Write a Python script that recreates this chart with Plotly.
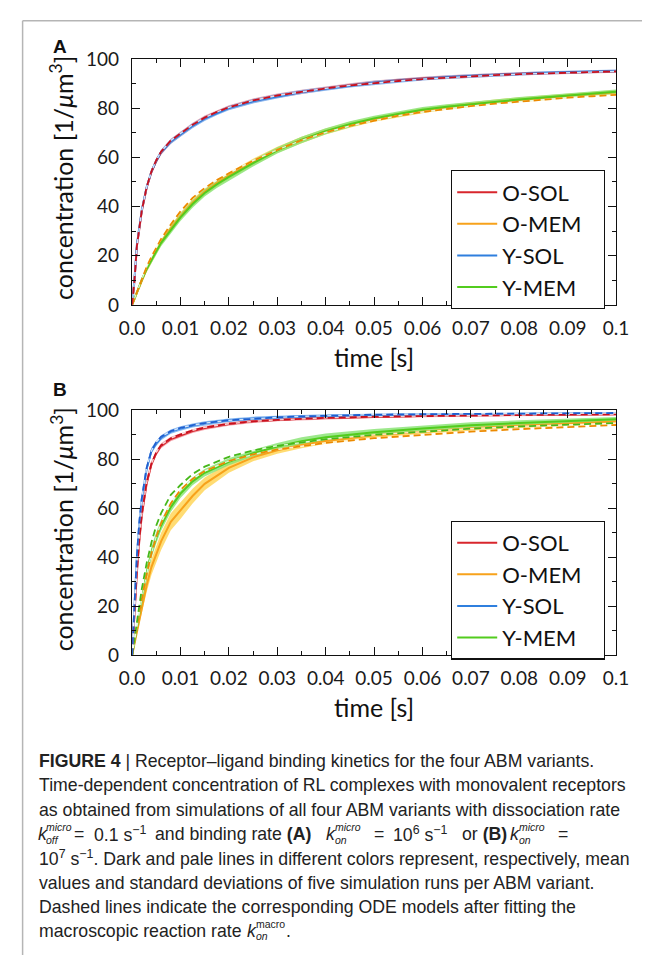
import plotly.graph_objects as go

# ---------------- data ----------------
series_names = ["O-SOL", "O-MEM", "Y-SOL", "Y-MEM"]

# panel A: k_on^micro = 1e6 s^-1
t_a = [0, 0.0005, 0.001, 0.002, 0.003, 0.004, 0.005, 0.006, 0.008, 0.01,
       0.0125, 0.015, 0.0175, 0.02, 0.025, 0.03, 0.035, 0.04, 0.045, 0.05,
       0.055, 0.06, 0.065, 0.07, 0.075, 0.08, 0.085, 0.09, 0.095, 0.1]
osol_a = [0, 10, 24, 38, 47.5, 54, 58.5, 62, 66.5, 69.5, 73, 76, 78.3, 80.2, 83,
          85, 86.6, 88, 89.3, 90.4, 91.3, 92, 92.6, 93.1, 93.5, 93.9, 94.2, 94.5, 94.8, 95.0]
ysol_a = [0, 10.5, 24.5, 38.5, 47.8, 54.2, 58.6, 62.1, 66.4, 69.3, 72.8, 75.7, 78.0, 80.0, 82.8,
          84.8, 86.5, 87.8, 89.2, 90.3, 91.1, 91.9, 92.5, 93.0, 93.5, 93.9, 94.3, 94.6, 94.9, 95.1]
omem_a = [0, 2.5, 5, 10, 14.5, 18.5, 22, 25.5, 31, 36, 41.5, 46, 49.5, 52.5, 58,
          63, 67, 70.5, 73.2, 75.5, 77.4, 79, 80.3, 81.5, 82.5, 83.4, 84.2, 85, 85.7, 86.4]
ymem_a = [0, 2.6, 5.2, 10.2, 14.6, 18.4, 21.8, 25.2, 30.6, 35.6, 41, 45.5, 49, 52, 57.6,
          62.8, 67, 70.6, 73.4, 75.8, 77.6, 79.3, 80.5, 81.6, 82.6, 83.5, 84.3, 85.1, 85.8, 86.6]
sd_sol_a = [0, 0.6, 0.9, 1.0, 1.0, 1.0, 1.0, 1.0, 1.0, 1.0, 1.0, 1.0, 0.9, 0.9, 0.9,
            0.9, 0.8, 0.8, 0.8, 0.8, 0.8, 0.7, 0.7, 0.7, 0.7, 0.7, 0.7, 0.6, 0.6, 0.6]
sd_mem_a = [0, 0.5, 0.8, 1.0, 1.2, 1.3, 1.4, 1.4, 1.5, 1.5, 1.5, 1.5, 1.5, 1.4, 1.4,
            1.3, 1.3, 1.2, 1.2, 1.1, 1.1, 1.1, 1.0, 1.0, 1.0, 1.0, 0.9, 0.9, 0.9, 0.9]
ode_sol_a = [0, 10.2, 24, 38.3, 47.8, 54.3, 58.8, 62.3, 66.8, 69.8, 73.2, 76.1, 78.4, 80.3, 83.1,
             85.1, 86.7, 88.0, 89.2, 90.2, 91.0, 91.8, 92.4, 92.9, 93.4, 93.8, 94.1, 94.4, 94.7, 94.9]
ode_mem_a = [0, 2.7, 5.4, 10.6, 15.4, 19.6, 23.3, 26.8, 32.7, 38, 43.5, 47.5, 50.7, 53.5, 58.6,
             63, 66.9, 70.1, 72.8, 75, 76.9, 78.4, 79.7, 80.8, 81.8, 82.7, 83.5, 84.2, 84.8, 85.4]

# panel B: k_on^micro = 1e7 s^-1
t_b = [0, 0.0005, 0.001, 0.0015, 0.002, 0.003, 0.004, 0.005, 0.006, 0.008, 0.01,
       0.0125, 0.015, 0.02, 0.025, 0.03, 0.035, 0.04, 0.05, 0.06, 0.07, 0.08, 0.09, 0.1]
osol_b = [0, 18, 34, 47, 57, 70, 78, 82.5, 85.5, 88.3, 89.8, 91.5, 92.8, 94.4, 95.5,
          96.1, 96.5, 96.9, 97.4, 97.7, 98.0, 98.2, 98.3, 98.4]
ysol_b = [0, 22, 40, 54, 63.5, 76, 83.5, 86.5, 88.8, 91.3, 92.6, 93.8, 94.7, 95.9, 96.7,
          97.2, 97.5, 97.8, 98.1, 98.3, 98.5, 98.6, 98.7, 98.8]
omem_b = [0, 5, 10, 15, 19.5, 28.5, 36, 41.5, 46.5, 54.5, 59, 65, 70, 76.5, 80.8,
          83.7, 85.8, 87.5, 89.8, 91.4, 92.7, 93.7, 94.6, 95.4]
ymem_b = [0, 6, 12, 17.5, 23, 33.5, 42, 48, 53, 60.5, 66, 71, 74.5, 79, 82.5,
          85.2, 87.4, 89, 91, 92.6, 93.9, 94.8, 95.6, 96.3]
sd_sol_b = [0, 2.0, 2.0, 1.8, 1.6, 1.4, 1.2, 1.1, 1.0, 0.9, 0.9, 0.8, 0.8, 0.7, 0.7,
            0.6, 0.6, 0.6, 0.5, 0.5, 0.5, 0.5, 0.5, 0.5]
sd_omem_b = [0, 1.0, 1.5, 2.0, 2.3, 2.8, 3.2, 3.4, 3.5, 3.5, 3.4, 3.0, 2.6, 2.0, 1.6,
             1.4, 1.3, 1.2, 1.1, 1.0, 1.0, 0.9, 0.9, 0.9]
sd_ymem_b = [0, 1.0, 1.4, 1.7, 2.0, 2.2, 2.3, 2.3, 2.2, 2.0, 1.8, 1.6, 1.5, 1.4, 1.4,
             1.5, 1.6, 1.5, 1.4, 1.3, 1.2, 1.1, 1.1, 1.0]
ode_osol_b = [0, 18.5, 34.5, 47.5, 57.5, 70.5, 78.3, 82.8, 85.8, 88.6, 90.2, 91.8, 93, 94.5, 95.5,
              96.1, 96.6, 96.9, 97.4, 97.7, 97.9, 98.1, 98.3, 98.4]
ode_ysol_b = [0, 23, 41, 54.5, 64, 76.5, 83.5, 87, 89.2, 91.5, 92.8, 93.9, 94.8, 95.9, 96.6,
              97.1, 97.5, 97.8, 98.2, 98.4, 98.6, 98.7, 98.8, 98.9]
ode_omem_b = [0, 6, 12, 17.5, 23, 33, 41.5, 48.5, 54, 62, 67.5, 72, 75.2, 79.3, 82,
              84, 85.5, 86.7, 88.6, 90.1, 91.3, 92.3, 93.2, 94]
ode_ymem_b = [0, 7, 14, 20.5, 27, 37.5, 46, 53, 58, 65.5, 69.5, 74, 77, 81, 83.6,
              85.5, 87, 88.2, 90, 91.4, 92.5, 93.4, 94.1, 94.8]

x_tickvals = [0, 0.01, 0.02, 0.03, 0.04, 0.05, 0.06, 0.07, 0.08, 0.09, 0.1]
x_ticktext = ["0.0", "0.01", "0.02", "0.03", "0.04", "0.05", "0.06", "0.07", "0.08", "0.09", "0.1"]
y_tickvals = [0, 20, 40, 60, 80, 100]

# ---------------- styles ----------------
mean_col = {"O-SOL": "#d8262c", "O-MEM": "#f7a21b", "Y-SOL": "#2f7fde", "Y-MEM": "#52cc1e"}
band_col = {"O-SOL": "rgba(240,140,150,0.75)", "O-MEM": "rgba(255,214,90,0.85)",
            "Y-SOL": "rgba(120,175,240,0.85)", "Y-MEM": "rgba(140,228,120,0.85)"}
ode_col = {"O-SOL": "#c8101e", "O-MEM": "#ec8a00", "Y-SOL": "#1f5fd0", "Y-MEM": "#46b81a"}

TICK_FONT = dict(family="Lato, Liberation Sans, sans-serif", size=19, color="#1a1a1a")
W, H = 655, 966

fig = go.Figure()


def add_panel(t, means, sds, odes, xa, ya, legend):
    # pale standard-deviation bands
    for name in ["O-SOL", "Y-SOL", "O-MEM", "Y-MEM"]:
        m, s = means[name], sds[name]
        up = [a + b for a, b in zip(m, s)]
        lo = [a - b for a, b in zip(m, s)]
        fig.add_trace(go.Scatter(x=list(t) + list(t)[::-1], y=up + lo[::-1], fill="toself",
                                 fillcolor=band_col[name], line=dict(width=0), mode="lines",
                                 hoverinfo="skip", showlegend=False, xaxis=xa, yaxis=ya))
    # mean lines
    for name in ["O-SOL", "Y-SOL", "O-MEM", "Y-MEM"]:
        fig.add_trace(go.Scatter(x=t, y=means[name], mode="lines", name=name,
                                 line=dict(color=mean_col[name], width=2),
                                 showlegend=False, xaxis=xa, yaxis=ya))
    # ODE fits, dashed
    for name, y in odes:
        fig.add_trace(go.Scatter(x=t, y=y, mode="lines", line=dict(color="rgba(255,255,255,0.8)", width=1.3),
                                 hoverinfo="skip", showlegend=False, xaxis=xa, yaxis=ya))
        fig.add_trace(go.Scatter(x=t, y=y, mode="lines", line=dict(color=ode_col[name], width=1.8, dash="7px,4px"),
                                 hoverinfo="skip", showlegend=False, xaxis=xa, yaxis=ya))
    # legend entries
    for name in series_names:
        fig.add_trace(go.Scatter(x=[None], y=[None], mode="lines", name=name + "\u00a0\u00a0\u00a0",
                                 line=dict(color=mean_col[name], width=2),
                                 legend=legend, xaxis=xa, yaxis=ya))


add_panel(t_a,
          {"O-SOL": osol_a, "Y-SOL": ysol_a, "O-MEM": omem_a, "Y-MEM": ymem_a},
          {"O-SOL": sd_sol_a, "Y-SOL": sd_sol_a, "O-MEM": sd_mem_a, "Y-MEM": sd_mem_a},
          [("O-MEM", ode_mem_a), ("O-SOL", ode_sol_a)], "x", "y", "legend")
add_panel(t_b,
          {"O-SOL": osol_b, "Y-SOL": ysol_b, "O-MEM": omem_b, "Y-MEM": ymem_b},
          {"O-SOL": sd_sol_b, "Y-SOL": sd_sol_b, "O-MEM": sd_omem_b, "Y-MEM": sd_ymem_b},
          [("O-MEM", ode_omem_b), ("Y-MEM", ode_ymem_b), ("O-SOL", ode_osol_b), ("Y-SOL", ode_ysol_b)],
          "x2", "y2", "legend2")

# ---------------- axes ----------------
x_dom = [124 / W, 628 / W]
ya_dom = [1 - 300 / H, 1 - 48 / H]
yb_dom = [1 - 659 / H, 1 - 408 / H]

xaxis_style = dict(range=[0, 0.1], tickmode="array", tickvals=x_tickvals, ticktext=x_ticktext,
                   showline=True, linecolor="#111", linewidth=1.3, mirror="ticks",
                   ticks="inside", ticklen=8, tickwidth=1.2, tickcolor="#111",
                   minor=dict(tickmode="linear", tick0=0, dtick=0.005, ticks="inside", ticklen=4,
                              tickwidth=1.1, tickcolor="#111", showgrid=False),
                   showgrid=False, zeroline=False, tickfont=TICK_FONT, ticklabelstandoff=6,
                   domain=x_dom)
yaxis_style = dict(range=[0, 100], tickmode="array", tickvals=y_tickvals,
                   showline=True, linecolor="#111", linewidth=1.3, mirror="ticks",
                   ticks="inside", ticklen=8, tickwidth=1.2, tickcolor="#111",
                   minor=dict(tickmode="linear", tick0=0, dtick=10, ticks="inside", ticklen=4,
                              tickwidth=1.1, tickcolor="#111", showgrid=False),
                   showgrid=False, zeroline=False, tickfont=TICK_FONT, ticklabelstandoff=8)

legend_style = dict(bordercolor="#111", borderwidth=1.3, bgcolor="white",
                    font=dict(family="Lato, Liberation Sans, sans-serif", size=22, color="#111"),
                    xanchor="left", yanchor="top", itemwidth=40, tracegroupgap=0)

fig.update_layout(
    width=W, height=H, margin=dict(l=0, r=0, t=0, b=0),
    paper_bgcolor="white", plot_bgcolor="white",
    xaxis=dict(**xaxis_style, anchor="y"),
    yaxis=dict(**yaxis_style, domain=ya_dom, anchor="x"),
    xaxis2=dict(**xaxis_style, anchor="y2"),
    yaxis2=dict(**yaxis_style, domain=yb_dom, anchor="x2"),
    legend=dict(**legend_style, x=456 / W, y=1 - 162 / H),
    legend2=dict(**legend_style, x=456 / W, y=1 - 521 / H),
)

# ---------------- titles, labels, caption ----------------
ann = []
axis_font = dict(family="Lato, Liberation Sans, sans-serif", size=25, color="#111")
for bottom in (297, 657):
    ann.append(dict(text="concentration [1/<i>μ</i>m<sup>3</sup>]", textangle=-90, font=axis_font,
                    xref="paper", yref="paper", x=51 / W, y=1 - bottom / H,
                    xanchor="center", yanchor="bottom", showarrow=False))
for yc in (353, 712):
    ann.append(dict(text="time [s]", font=axis_font, xref="paper", yref="paper",
                    x=376 / W, y=1 - yc / H, xanchor="center", yanchor="middle", showarrow=False))
for lab, yc in (("A", 35), ("B", 387)):
    ann.append(dict(text=f"<b>{lab}</b>", font=dict(family="Liberation Sans, Arial, sans-serif", size=19, color="#111"),
                    xref="paper", yref="paper", x=49 / W, y=1 - yc / H,
                    xanchor="center", yanchor="middle", showarrow=False))

CAP = dict(family="Liberation Sans, Arial, sans-serif", size=17.7, color="#222")
SCR = dict(family="Liberation Sans, Arial, sans-serif", size=10.5, color="#222")


def cap(text, x, yc, font=CAP, anchor="left"):
    ann.append(dict(text=text, font=font, xref="paper", yref="paper", x=x / W, y=1 - yc / H,
                    xanchor=anchor, yanchor="middle", showarrow=False, borderpad=0))


cap("<b>FIGURE 4</b> | Receptor–ligand binding kinetics for the four ABM variants.", 26, 767)
cap("Time-dependent concentration of RL complexes with monovalent receptors", 26, 792)
cap("as obtained from simulations of all four ABM variants with dissociation rate", 26, 817)
# line with stacked super/subscripts
cap("<i>k</i>", 25, 842)
cap("<i>micro</i>", 33, 835, SCR)
cap("<i>off</i>", 33, 848, SCR)
cap("=", 63, 842)
cap("0.1 s<sup>−1</sup>", 83, 842)
cap("and binding rate <b>(A)</b>", 147, 842)
cap("<i>k</i>", 325, 842)
cap("<i>micro</i>", 334, 835, SCR)
cap("<i>on</i>", 334, 848, SCR)
cap("=", 375, 842)
cap("10<sup>6</sup> s<sup>−1</sup>", 395, 842)
cap("or <b>(B)</b>", 467, 842)
cap("<i>k</i>", 517, 842)
cap("<i>micro</i>", 526, 835, SCR)
cap("<i>on</i>", 526, 848, SCR)
cap("=", 567, 842)
cap("10<sup>7</sup> s<sup>−1</sup>. Dark and pale lines in different colors represent, respectively, mean", 26, 867)
cap("values and standard deviations of five simulation runs per ABM variant.", 26, 892)
cap("Dashed lines indicate the corresponding ODE models after fitting the", 26, 917)
cap("macroscopic reaction rate", 26, 941)
cap("<i>k</i>", 243, 941)
cap("macro", 252, 934, SCR)
cap("<i>on</i>", 252, 947, SCR)
cap(".", 283, 941)

fig.update_layout(annotations=ann)

# frame lines at the top and left
fig.update_layout(shapes=[
    dict(type="line", xref="paper", yref="paper", x0=10 / W, x1=1, y0=1 - 9 / H, y1=1 - 9 / H,
         line=dict(color="#b5b5b5", width=1.5)),
    dict(type="line", xref="paper", yref="paper", x0=10 / W, x1=10 / W, y0=0, y1=1 - 9 / H,
         line=dict(color="#b5b5b5", width=1.5)),
])

fig.write_html("out.html",
               post_script="document.body.style.margin='0';document.body.style.overflow='hidden';")
